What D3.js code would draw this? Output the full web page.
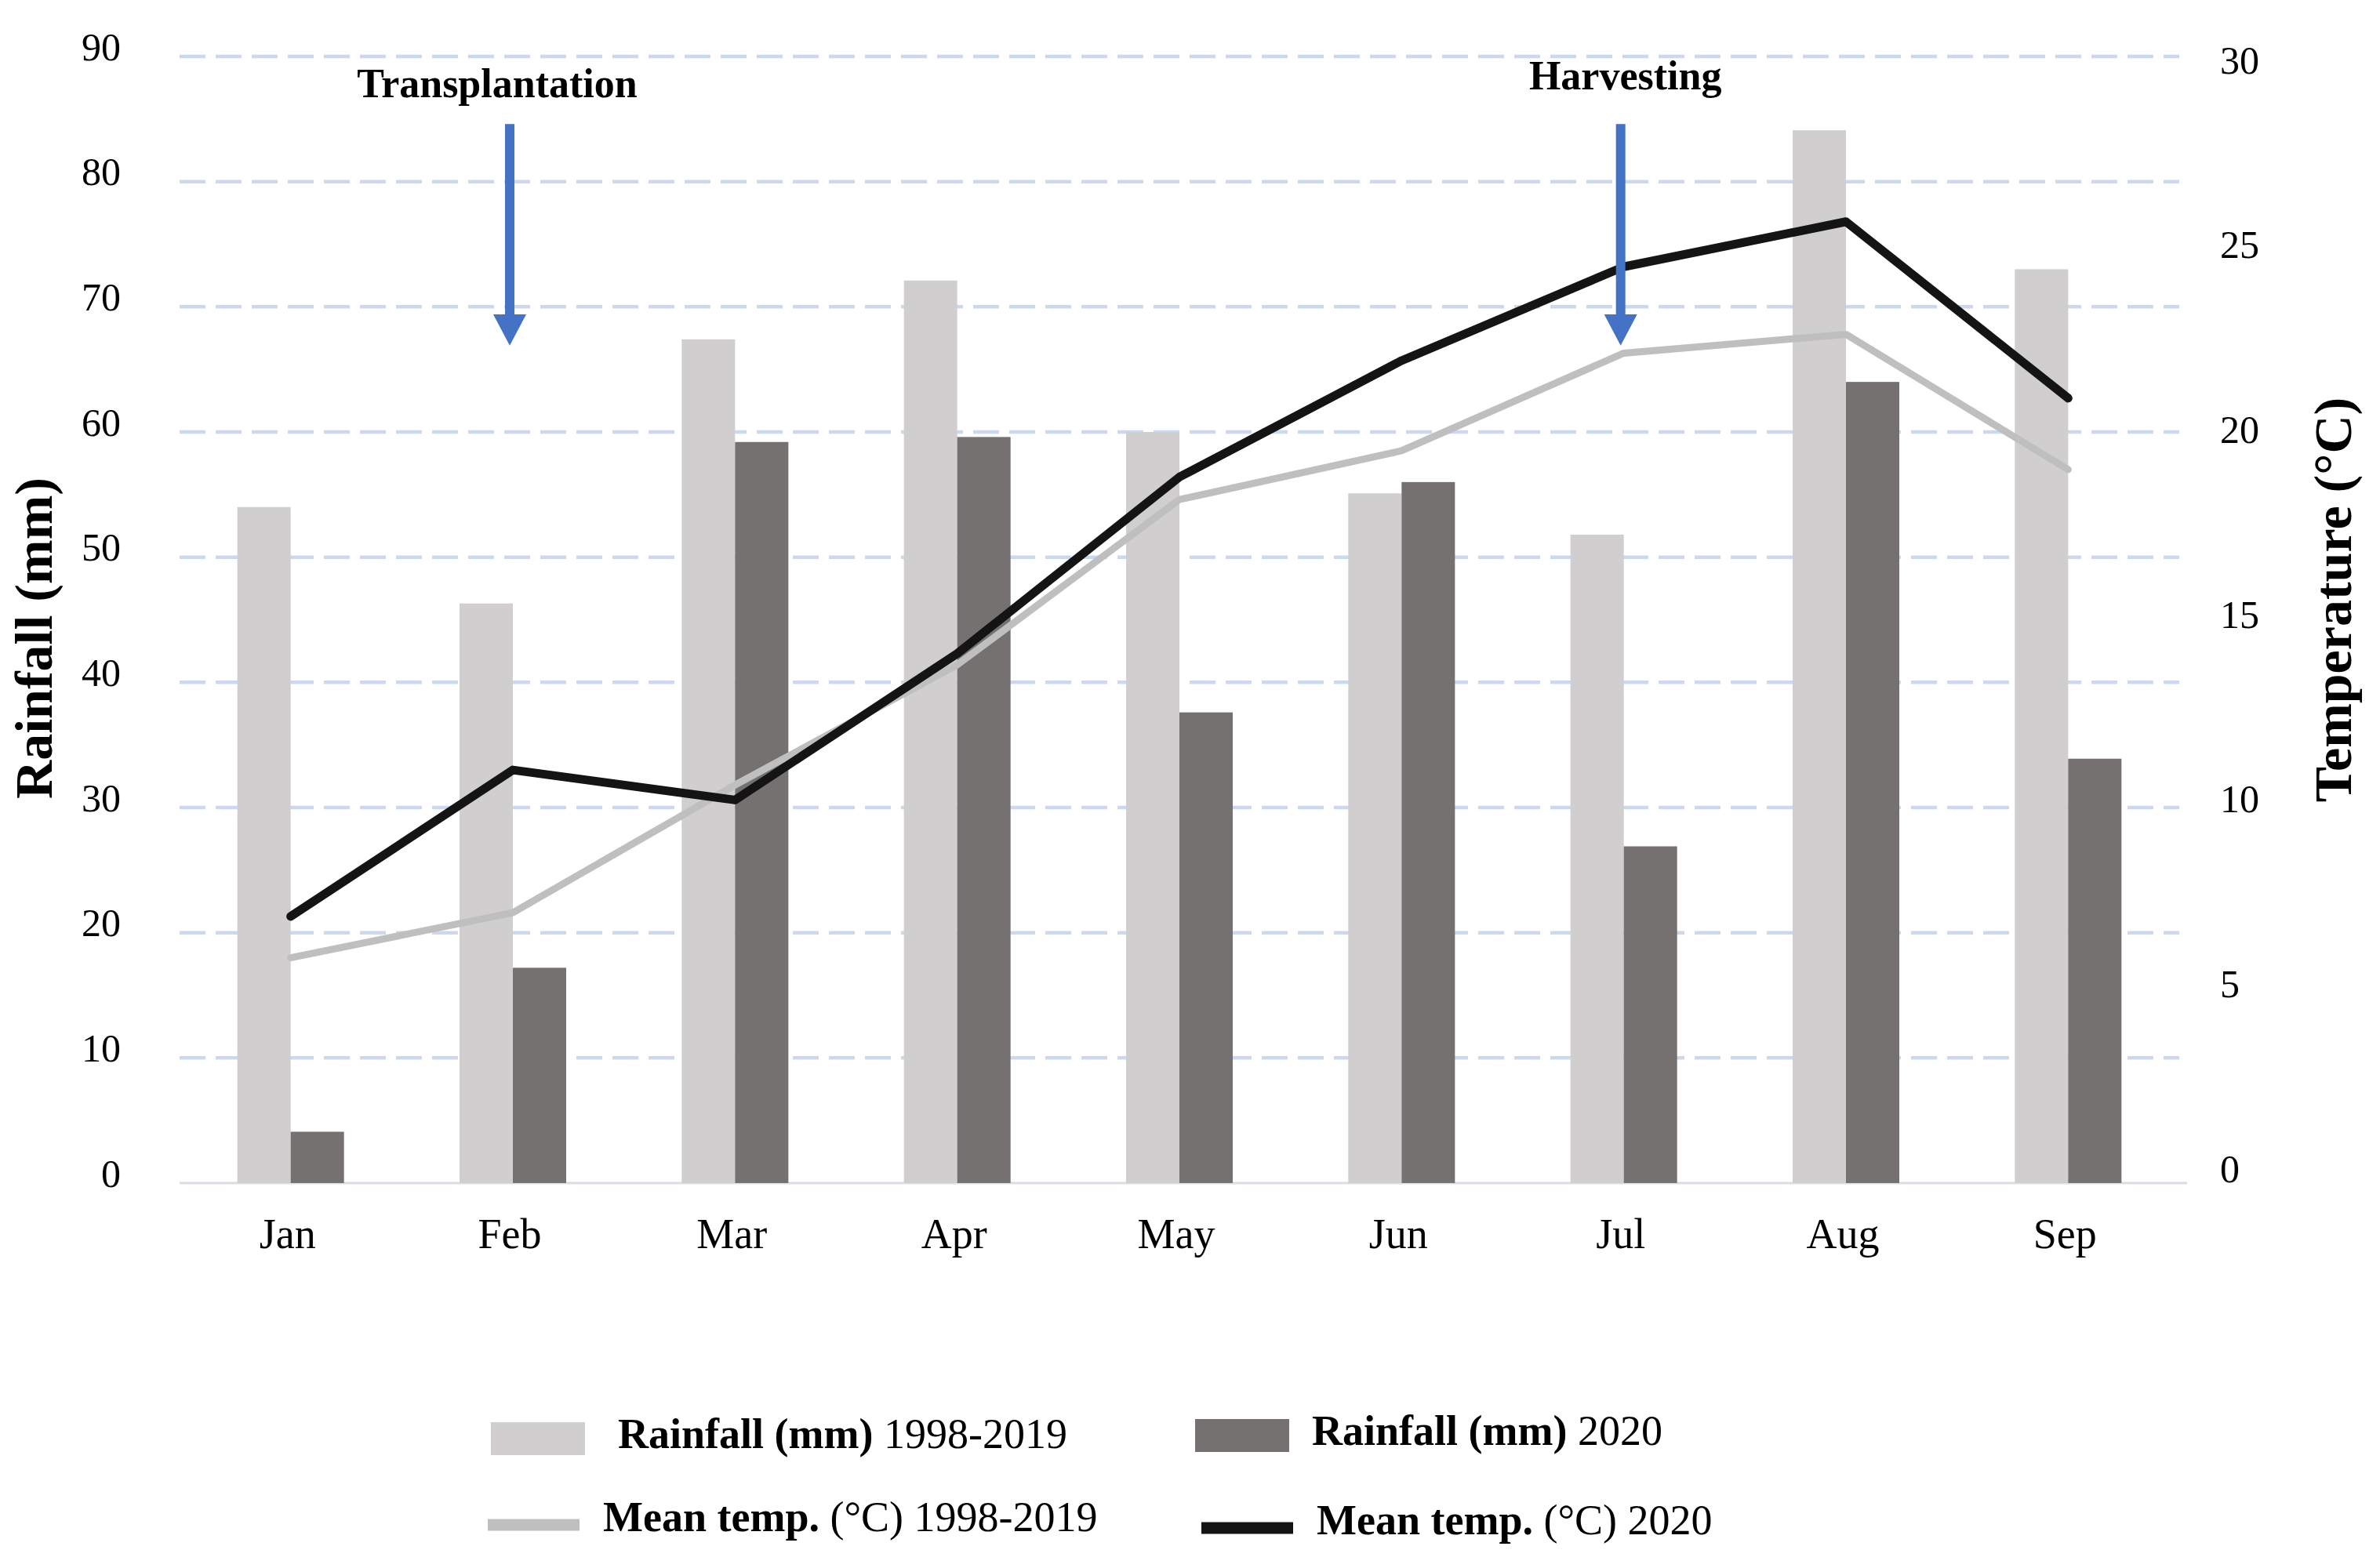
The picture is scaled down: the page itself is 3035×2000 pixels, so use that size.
<!DOCTYPE html>
<html>
<head>
<meta charset="utf-8">
<script src="https://cdn.jsdelivr.net/npm/d3@7"></script>
<style>
  body { margin: 0; background: #fff; }
  text { font-family: "Liberation Serif", "Times New Roman", serif; fill: #000; }
</style>
</head>
<body>
<script>
// chart values
const months = ["Jan", "Feb", "Mar", "Apr", "May", "Jun", "Jul", "Aug", "Sep"];
const rain9819 = [54, 46.3, 67.4, 72.1, 60, 55.1, 51.8, 84.1, 73];
const rain2020 = [4.1, 17.2, 59.2, 59.6, 37.6, 56, 26.9, 64, 33.9];
const temp9819 = [6.0, 7.2, 10.6, 13.8, 18.2, 19.5, 22.1, 22.6, 19.0];
const temp2020 = [7.1, 11.0, 10.2, 14.1, 18.8, 21.9, 24.4, 25.6, 20.9];
const rainTicks = [0, 10, 20, 30, 40, 50, 60, 70, 80, 90];
const tempTicks = [0, 5, 10, 15, 20, 25, 30];
const events = [
    { month: "Feb", label: "Transplantation" },
    { month: "Jul", label: "Harvesting" }
];

const W = 3035, H = 2000;
const plotLeft = 229, plotRight = 2779, plotBottom = 1509, plotTop = 72;

const svg = d3.select("body").append("svg")
    .attr("width", W)
    .attr("height", H);

const x = d3.scaleBand()
    .domain(months)
    .range([plotLeft, plotRight])
    .paddingInner(0.52)
    .paddingOuter(0.26);

const xSub = d3.scaleBand()
    .domain(["1998-2019", "2020"])
    .range([0, x.bandwidth()]);

const yRain = d3.scaleLinear().domain([0, 90]).range([plotBottom, plotTop]);
const yTemp = d3.scaleLinear().domain([0, 30]).range([plotBottom, plotTop]);
// right hand labels sit a little tighter than the gridlines in the original
const yTempLabels = d3.scaleLinear().domain([0, 30]).range([1491, 77]);

const xc = m => x(m) + x.bandwidth() / 2;

// dashed gridlines
svg.append("g")
    .selectAll("line")
    .data(rainTicks.filter(d => d > 0))
    .enter().append("line")
    .attr("x1", plotLeft)
    .attr("x2", plotRight)
    .attr("y1", d => yRain(d))
    .attr("y2", d => yRain(d))
    .attr("stroke", "#CBD8EF")
    .attr("stroke-width", 4.5)
    .attr("stroke-dasharray", "33 13");

// baseline
svg.append("line")
    .attr("x1", plotLeft)
    .attr("x2", plotRight + 10)
    .attr("y1", yRain(0))
    .attr("y2", yRain(0))
    .attr("stroke", "#DADDE3")
    .attr("stroke-width", 3);

// bars
const bars = svg.append("g");
bars.selectAll("rect.old")
    .data(rain9819)
    .enter().append("rect")
    .attr("class", "old")
    .attr("x", (d, i) => x(months[i]) + xSub("1998-2019"))
    .attr("y", d => yRain(d))
    .attr("width", xSub.bandwidth())
    .attr("height", d => yRain(0) - yRain(d))
    .attr("fill", "#D0CECE");

bars.selectAll("rect.new")
    .data(rain2020)
    .enter().append("rect")
    .attr("class", "new")
    .attr("x", (d, i) => x(months[i]) + xSub("2020"))
    .attr("y", d => yRain(d))
    .attr("width", xSub.bandwidth())
    .attr("height", d => yRain(0) - yRain(d))
    .attr("fill", "#767171");

// temperature lines
const line = d3.line()
    .x((d, i) => xc(months[i]))
    .y(d => yTemp(d));

svg.append("path")
    .datum(temp9819)
    .attr("d", line)
    .attr("fill", "none")
    .attr("stroke", "#BFBFBF")
    .attr("stroke-width", 9)
    .attr("stroke-linejoin", "round")
    .attr("stroke-linecap", "round");

svg.append("path")
    .datum(temp2020)
    .attr("d", line)
    .attr("fill", "none")
    .attr("stroke", "#141414")
    .attr("stroke-width", 11)
    .attr("stroke-linejoin", "round")
    .attr("stroke-linecap", "round");

// left axis
const axisL = svg.append("g")
    .attr("transform", `translate(${plotLeft - 75},-12)`)
    .call(d3.axisLeft(yRain).tickValues(rainTicks).tickSize(0).tickPadding(0));
axisL.select(".domain").remove();
axisL.selectAll("text")
    .style("font-family", "Liberation Serif")
    .style("font-size", "50px")
    .attr("fill", "#000");

// right axis
const axisR = svg.append("g")
    .attr("transform", `translate(${plotRight + 52},0)`)
    .call(d3.axisRight(yTempLabels).tickValues(tempTicks).tickSize(0).tickPadding(0));
axisR.select(".domain").remove();
axisR.selectAll("text")
    .style("font-family", "Liberation Serif")
    .style("font-size", "50px")
    .attr("fill", "#000");

// month labels
const axisB = svg.append("g")
    .attr("transform", `translate(-4,${plotBottom + 45})`)
    .call(d3.axisBottom(x).tickSize(0).tickPadding(0));
axisB.select(".domain").remove();
axisB.selectAll("text")
    .style("font-family", "Liberation Serif")
    .style("font-size", "54px")
    .attr("fill", "#000");

// axis titles
svg.append("text")
    .attr("transform", "translate(66,814) rotate(-90)")
    .attr("text-anchor", "middle")
    .style("font-size", "68px")
    .style("font-weight", "bold")
    .text("Rainfall (mm)");

svg.append("text")
    .attr("transform", "translate(2998,765) rotate(-90)")
    .attr("text-anchor", "middle")
    .style("font-size", "68px")
    .style("font-weight", "bold")
    .text("Temperature (°C)");

// event arrows
const ev = svg.append("g").selectAll("g")
    .data(events)
    .enter().append("g");

ev.append("text")
    .attr("x", d => xc(d.month) + (d.month === "Feb" ? -20 : 2))
    .attr("y", d => d.month === "Feb" ? 124 : 114)
    .attr("text-anchor", "middle")
    .style("font-size", "52px")
    .style("font-weight", "bold")
    .text(d => d.label);

ev.append("rect")
    .attr("x", d => xc(d.month) - 6 - 4)
    .attr("y", yRain(84.6))
    .attr("width", 12)
    .attr("height", yRain(69.2) - yRain(84.6))
    .attr("fill", "#4472C4");

ev.append("path")
    .attr("d", d => {
        const cx = xc(d.month) - 4;
        const y0 = yRain(69.4), y1 = yRain(66.9);
        return `M${cx - 21},${y0}L${cx + 21},${y0}L${cx},${y1}Z`;
    })
    .attr("fill", "#4472C4");

// legend
const legend = [
    { name: "Rainfall (mm)", years: "1998-2019", kind: "bar", color: "#D0CECE", sx: 626, tx: 788, y: 1835 },
    { name: "Rainfall (mm)", years: "2020", kind: "bar", color: "#767171", sx: 1524, tx: 1673, y: 1831 },
    { name: "Mean temp.", years: "1998-2019", kind: "line", color: "#BFBFBF", sx: 622, tx: 769, y: 1941 },
    { name: "Mean temp.", years: "2020", kind: "line", color: "#141414", sx: 1532, tx: 1679, y: 1945 }
];

const lg = svg.append("g").selectAll("g")
    .data(legend)
    .enter().append("g");

lg.filter(d => d.kind === "bar").append("rect")
    .attr("x", d => d.sx)
    .attr("y", d => d.y - 21)
    .attr("width", 120)
    .attr("height", 42)
    .attr("fill", d => d.color);

lg.filter(d => d.kind === "line").append("line")
    .attr("x1", d => d.sx)
    .attr("x2", d => d.sx + 117)
    .attr("y1", d => d.y + 4)
    .attr("y2", d => d.y + 4)
    .attr("stroke", d => d.color)
    .attr("stroke-width", 15);

const lt = lg.append("text")
    .attr("x", d => d.tx)
    .attr("y", d => d.y)
    .attr("dominant-baseline", "middle")
    .style("font-size", "54px");

lt.append("tspan")
    .style("font-weight", "bold")
    .text(d => d.name + " ");
lt.filter(d => d.kind === "line").append("tspan")
    .text("(°C) ");
lt.append("tspan")
    .text(d => d.years);
</script>
</body>
</html>
